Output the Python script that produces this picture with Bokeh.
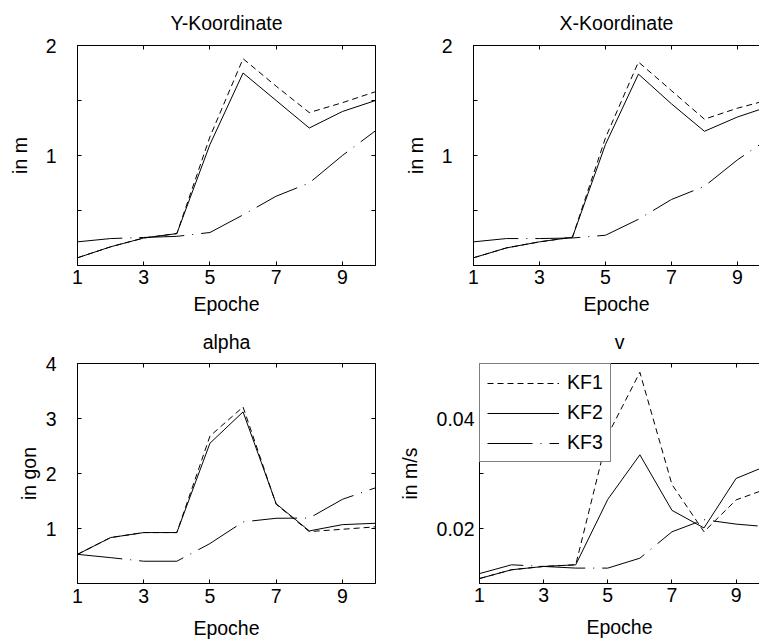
from bokeh.plotting import figure
from bokeh.layouts import column, row
from bokeh.models import Range1d, LinearAxis, FixedTicker, Legend, LegendItem
from bokeh.embed import file_html
from bokeh.resources import INLINE

# ---------------- data ----------------
epochs = [1, 2, 3, 4, 5, 6, 7, 8, 9, 10]

y_kf1 = [0.07, 0.17, 0.25, 0.29, 1.17, 1.88, 1.63, 1.39, 1.48, 1.58]
y_kf2 = [0.07, 0.17, 0.25, 0.29, 1.10, 1.75, 1.50, 1.25, 1.40, 1.50]
y_kf3 = [0.215, 0.245, 0.255, 0.265, 0.30, 0.46, 0.63, 0.75, 1.00, 1.225]

x_kf1 = [0.07, 0.16, 0.215, 0.257, 1.16, 1.85, 1.59, 1.33, 1.43, 1.51]
x_kf2 = [0.07, 0.16, 0.215, 0.257, 1.10, 1.74, 1.47, 1.22, 1.35, 1.45]
x_kf3 = [0.215, 0.245, 0.245, 0.25, 0.275, 0.42, 0.60, 0.72, 0.96, 1.165]

a_kf1 = [0.53, 0.835, 0.926, 0.926, 2.68, 3.21, 1.44, 0.944, 0.986, 1.03]
a_kf2 = [0.53, 0.835, 0.926, 0.926, 2.55, 3.12, 1.45, 0.956, 1.07, 1.095]
a_kf3 = [0.53, 0.47, 0.405, 0.405, 0.726, 1.12, 1.186, 1.19, 1.53, 1.74]

v_kf1 = [0.0109, 0.0125, 0.0131, 0.0134, 0.0370, 0.0484, 0.0280, 0.0194, 0.0252, 0.0273]
v_kf2 = [0.0109, 0.0125, 0.0131, 0.0134, 0.0253, 0.0334, 0.0233, 0.0201, 0.0291, 0.0315]
v_kf3 = [0.0118, 0.0134, 0.0131, 0.0128, 0.0128, 0.0146, 0.0194, 0.0216, 0.0208, 0.0203]

x_ticks = [1, 3, 5, 7, 9]
series_names = ["KF1", "KF2", "KF3"]

FONT = "Liberation Sans"
FS = "19.5px"
DASHES = ["6 4", "solid", "45 8 1 8"]


def style_axis(ax, ticks, overrides=None, blank=False, standoff=3):
    ax.ticker = FixedTicker(ticks=ticks)
    ax.major_tick_in = 4
    ax.major_tick_out = 0
    ax.minor_tick_line_color = None
    ax.axis_line_color = "black"
    ax.axis_line_width = 1
    ax.major_tick_line_color = "black"
    ax.major_label_text_font = FONT
    ax.major_label_text_color = "black"
    ax.major_label_standoff = standoff
    if blank:
        ax.major_label_overrides = {t: "" for t in ticks}
        ax.major_label_text_font_size = "1px"
        ax.major_label_standoff = 0
    else:
        ax.major_label_text_font_size = FS
        if overrides:
            ax.major_label_overrides = overrides


def style_label(ax, text, standoff):
    ax.axis_label = text
    ax.axis_label_text_font = FONT
    ax.axis_label_text_font_size = FS
    ax.axis_label_text_font_style = "normal"
    ax.axis_label_text_color = "black"
    ax.axis_label_standoff = standoff


def make_fig(title, ylabel, yr, yticks, ylabels, x_end, width, height,
             mbl, mbr, mbt, mbb, right_axis, ylab_standoff, ylabel_standoff,
             title_standoff, xlab_standoff, xlabel_standoff, series):
    p = figure(width=width, height=height,
               x_range=Range1d(1, x_end), y_range=Range1d(*yr),
               output_backend="svg", toolbar_location=None)
    p.min_border_left = mbl
    p.min_border_right = mbr
    p.min_border_top = mbt
    p.min_border_bottom = mbb
    p.outline_line_color = None
    p.xgrid.visible = False
    p.ygrid.visible = False
    p.background_fill_color = "white"
    p.border_fill_color = "white"

    xa = p.xaxis[0]
    style_axis(xa, x_ticks, standoff=xlab_standoff)
    style_label(xa, "Epoche", xlabel_standoff)

    ya = p.yaxis[0]
    style_axis(ya, yticks, overrides=ylabels, standoff=ylab_standoff)
    style_label(ya, ylabel, ylabel_standoff)

    # top axis: box edge with inward ticks, carries the panel title
    top = LinearAxis()
    style_axis(top, x_ticks, blank=True)
    style_label(top, title, title_standoff)
    p.add_layout(top, "above")
    if right_axis:
        rgt = LinearAxis()
        style_axis(rgt, yticks, blank=True)
        p.add_layout(rgt, "right")

    renderers = []
    for vals, dash in zip(series, DASHES):
        r = p.line(epochs, vals, line_color="black", line_width=1,
                   line_dash=dash)
        renderers.append(r)
    return p, renderers


yt_m = [0, 0.5, 1, 1.5, 2]
yl_m = {0: "", 0.5: "", 1: "1", 1.5: "", 2: "2"}
yt_a = [0, 1, 2, 3, 4]
yl_a = {0: "", 1: "1", 2: "2", 3: "3", 4: "4"}
yt_v = [0.01, 0.02, 0.03, 0.04, 0.05]
yl_v = {0.01: "", 0.02: "0.02", 0.03: "", 0.04: "0.04", 0.05: ""}

f1, _ = make_fig("Y-Koordinate", "in m", (0, 2), yt_m, yl_m, 10,
                 401, 317, 77, 26, 45, 52, True, 21, 12, 12, 4, 6,
                 [y_kf1, y_kf2, y_kf3])
f2, _ = make_fig("X-Koordinate", "in m", (0, 2), yt_m, yl_m, 9.67,
                 358, 317, 69, 0, 45, 52, False, 21, 12, 12, 4, 6,
                 [x_kf1, x_kf2, x_kf3])
f3, _ = make_fig("alpha", "in gon", (0, 4), yt_a, yl_a, 10,
                 395, 325, 77, 20, 46, 59, True, 21, 3, 11, 5, 11,
                 [a_kf1, a_kf2, a_kf3])
f4, rs = make_fig("v", "in m/s", (0.01, 0.05), yt_v, yl_v, 9.73,
                  364, 325, 84, 0, 46, 55, False, 5, 13, 11, 4, 11,
                  [v_kf1, v_kf2, v_kf3])

legend = Legend(items=[LegendItem(label=n, renderers=[r])
                       for n, r in zip(series_names, rs)])
legend.location = "top_left"
legend.margin = 0
legend.padding = 7
legend.spacing = 7
legend.glyph_width = 72
legend.label_standoff = 8
legend.label_text_font = FONT
legend.label_text_font_size = FS
legend.label_text_color = "black"
legend.border_line_color = "black"
legend.border_line_width = 1
legend.background_fill_color = "white"
legend.background_fill_alpha = 1
f4.add_layout(legend, "center")

layout = column(row(f1, f2), row(f3, f4))

open("out.html", "w").write(file_html(layout, INLINE))
